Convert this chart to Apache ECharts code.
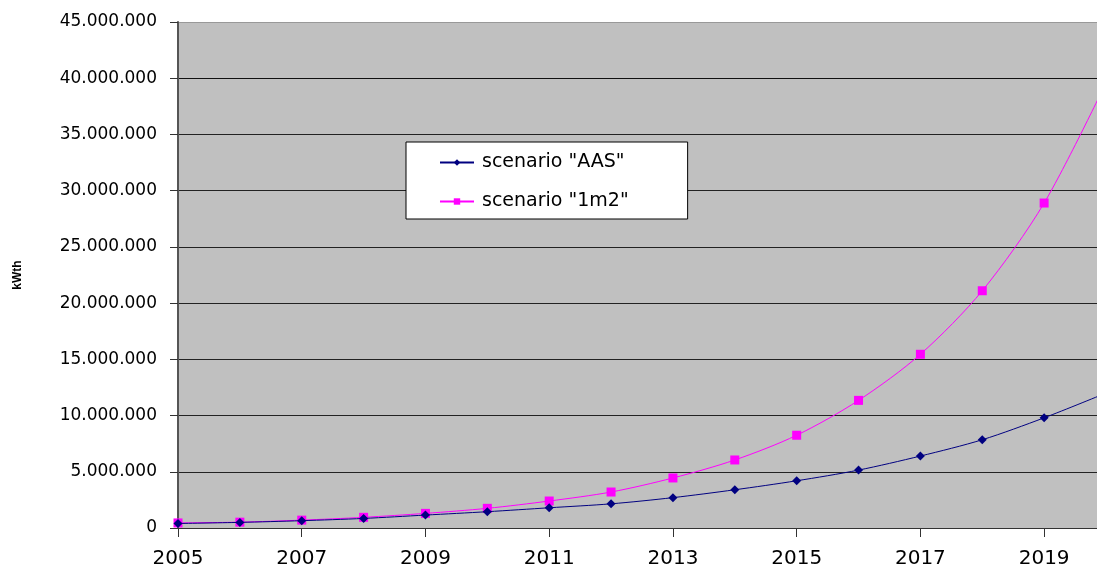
<!DOCTYPE html>
<html>
<head>
<meta charset="utf-8">
<script src="https://cdn.jsdelivr.net/npm/echarts@6/dist/echarts.min.js"></script>
<style>html,body{margin:0;padding:0;background:#fff;overflow:hidden;width:1097px;height:570px;}#c{width:1106px;height:570px;}</style>
</head>
<body>
<div id="c"></div>
<script>
const years = ['2005','2006','2007','2008','2009','2010','2011','2012','2013','2014','2015','2016','2017','2018','2019','2020'];
const seriesAAS = [400000, 500000, 650000, 850000, 1150000, 1450000, 1800000, 2150000, 2700000, 3400000, 4200000, 5150000, 6400000, 7850000, 9800000, 12000000];
const series1m2 = [450000, 520000, 700000, 950000, 1300000, 1750000, 2400000, 3200000, 4450000, 6050000, 8250000, 11350000, 15450000, 21100000, 28900000, 39600000];
const seriesNames = ['scenario "AAS"', 'scenario "1m2"'];
const yTicks = [0, 5000000, 10000000, 15000000, 20000000, 25000000, 30000000, 35000000, 40000000, 45000000];
const yName = 'kWth';

const fmt = v => v === 0 ? '0' : String(v).replace(/\B(?=(\d{3})+(?!\d))/g, '.');
const FONT = '"DejaVu Sans", sans-serif';

const chart = echarts.init(document.getElementById('c'), null, {renderer: 'canvas'});
chart.setOption({
  animation: false,
  backgroundColor: '#ffffff',
  grid: {left: 178, right: 0, top: 22, bottom: 42, show: true, backgroundColor: '#c0c0c0', borderWidth: 0},
  legend: {
    orient: 'vertical', left: 406, top: 142,
    backgroundColor: '#ffffff', borderColor: '#000', borderWidth: 1,
    padding: [11, 59, 8, 33], itemGap: 20, itemWidth: 34, itemHeight: 8,
    textStyle: {fontFamily: FONT, fontSize: 19, color: '#000', lineHeight: 18, padding: [0, 0, 0, 3]},
    data: seriesNames
  },
  xAxis: {
    type: 'category', data: years, boundaryGap: false,
    axisLine: {show: false},
    axisTick: {show: true, interval: 1, length: 9, lineStyle: {color: '#333', width: 1}},
    axisLabel: {interval: 1, fontFamily: FONT, fontSize: 20, color: '#000', margin: 21},
    splitLine: {show: false}
  },
  yAxis: {
    type: 'value', min: 0, max: 45000000, interval: 5000000,
    name: yName, nameLocation: 'middle', nameGap: 154, nameRotate: 90,
    nameTextStyle: {fontFamily: 'Liberation Sans, Arial, sans-serif', fontSize: 12, fontWeight: 'bold', color: '#000', align: 'center'},
    axisLine: {show: true, lineStyle: {color: '#555', width: 2}},
    axisTick: {show: true, length: 8, lineStyle: {color: '#333'}},
    axisLabel: {fontFamily: FONT, fontSize: 17, color: '#000', margin: 21, formatter: v => yTicks.includes(v) ? fmt(v) : ''},
    splitLine: {show: true, lineStyle: {color: ['#333', '#222', '#222', '#222', '#222', '#222', '#222', '#222', '#111', '#999'], width: 1}}
  },
  series: [
    {
      name: seriesNames[0], type: 'line', data: seriesAAS, smooth: 0.3,
      symbol: 'diamond', symbolSize: 9, showAllSymbol: true,
      itemStyle: {color: '#000080'}, lineStyle: {color: '#000080', width: 1}, z: 3
    },
    {
      name: seriesNames[1], type: 'line', data: series1m2, smooth: 0.3,
      symbol: 'rect', symbolSize: 9, showAllSymbol: true,
      itemStyle: {color: '#ff00ff'}, lineStyle: {color: '#ff00ff', width: 1}, z: 2
    }
  ]
});
</script>
</body>
</html>
